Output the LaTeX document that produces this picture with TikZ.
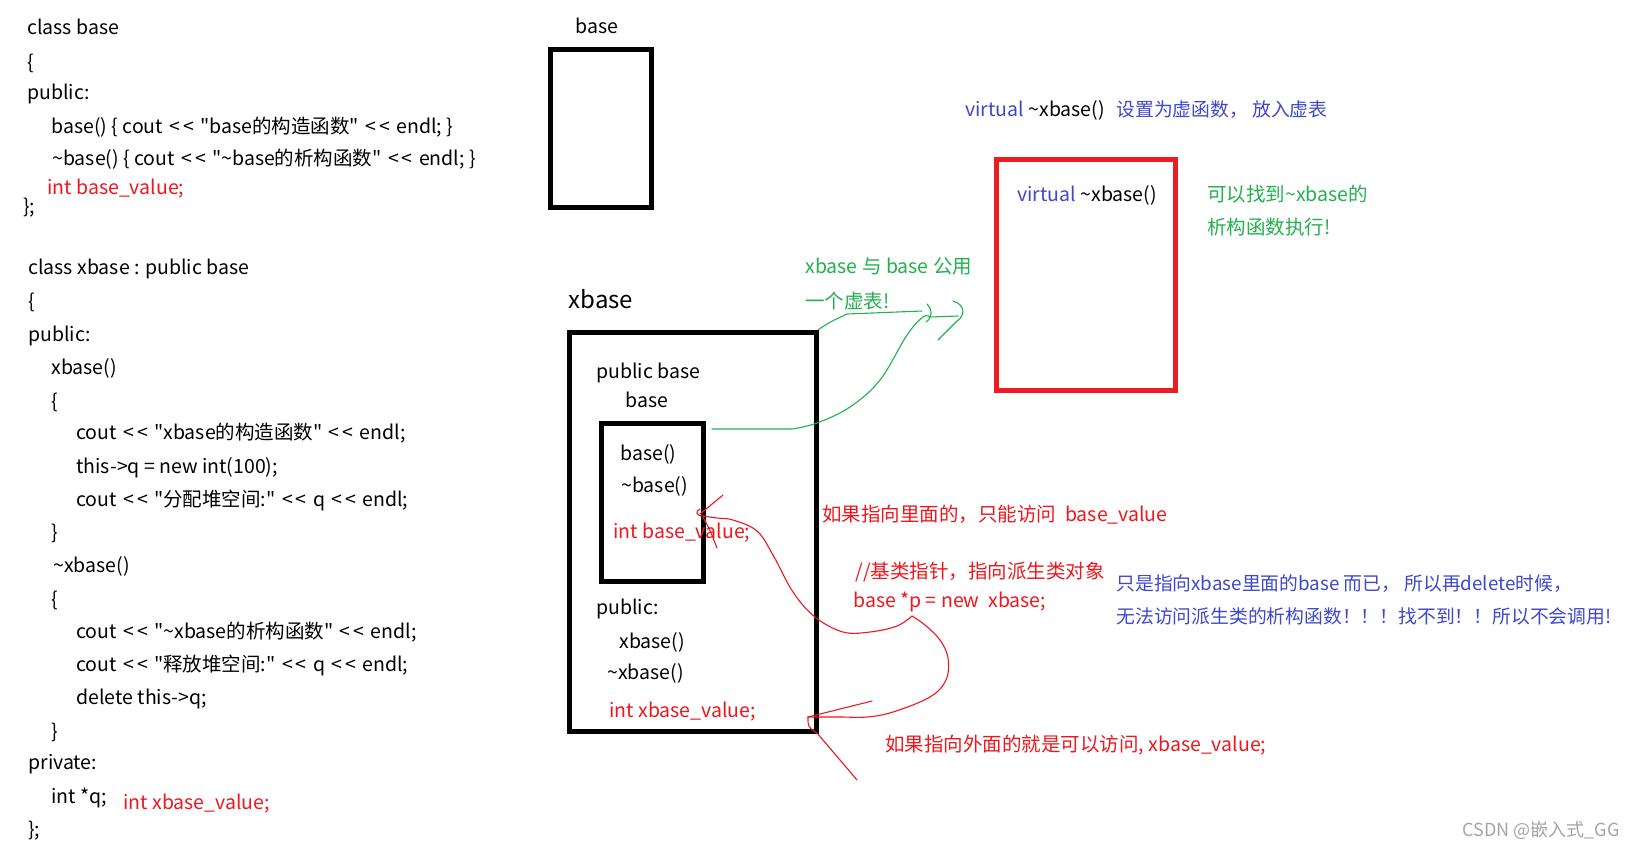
\documentclass[tikz,border=0pt]{standalone}
\usepackage{fontspec}
\newfontfamily\ydfont{Noto Sans CJK SC}
\newcommand{\ltlt}{\kern1pt<\kern1.5pt<\kern1pt}
\definecolor{txtred}{RGB}{240,22,30}
\definecolor{boxred}{RGB}{237,28,36}
\definecolor{pengreen}{RGB}{34,177,76}
\definecolor{txtblue}{RGB}{63,72,204}
\definecolor{wmgray}{RGB}{165,165,165}
\usetikzlibrary{arrows.meta,positioning}

\begin{document}
\begin{tikzpicture}[x=0.5pt, y=-0.5pt,
  txt/.style={anchor=west, inner sep=0pt, font=\ydfont\fontsize{9.75}{11}\selectfont, text height=7.3pt, text depth=0.5pt},
  ctxt/.style={txt, anchor=center},
  redtxt/.style={txt, text=txtred},
  greentxt/.style={txt, text=pengreen},
  bluetxt/.style={txt, text=txtblue, font=\ydfont\fontsize{9.4}{11}\selectfont},
  blackbox/.style={draw=black, line width=2.5pt, inner sep=0pt},
  redbox/.style={draw=boxred, line width=2.5pt, inner sep=0pt},
  greenpen/.style={draw=pengreen, line width=0.55pt, line cap=round, line join=round},
  redpen/.style={draw=txtred, line width=0.55pt, line cap=round, line join=round}]
  \useasboundingbox (0,0) rectangle (1634,848);
  \fill[white] (0,0) rectangle (1634,848);

  % class base
  \node[txt] (b1) at (27,28) {class base};
  \node[txt] (b2) at (27,63) {\{};
  \node[txt] (b3) at (27,93) {public:};
  \node[txt] (b4) at (51,127) {base() \{ cout \ltlt{} "base的构造函数" \ltlt{} endl; \}};
  \node[txt] (b5) at (52,159) {\textasciitilde base() \{ cout \ltlt{} "\textasciitilde base的析构函数" \ltlt{} endl; \}};
  \node[redtxt] (b6) at (47,188) {int base\_value;};
  \node[txt] (b7) at (23,207) {\};};

  % class xbase
  \node[txt] (x1) at (28,268) {class xbase : public base};
  \node[txt] (x2) at (28,302) {\{};
  \node[txt] (x3) at (28,335) {public:};
  \node[txt] (x4) at (51,368) {xbase()};
  \node[txt] (x5) at (51,402) {\{};
  \node[txt] (x6) at (76,433) {cout \ltlt{} "xbase的构造函数" \ltlt{} endl;};
  \node[txt] (x7) at (76,467) {this->q = new int(100);};
  \node[txt] (x8) at (76,500) {cout \ltlt{} "分配堆空间:" \ltlt{} q \ltlt{} endl;};
  \node[txt] (x9) at (51,533) {\}};
  \node[txt] (x10) at (53,566) {\textasciitilde xbase()};
  \node[txt] (x11) at (51,600) {\{};
  \node[txt] (x12) at (76,632) {cout \ltlt{} "\textasciitilde xbase的析构函数" \ltlt{} endl;};
  \node[txt] (x13) at (76,665) {cout \ltlt{} "释放堆空间:" \ltlt{} q \ltlt{} endl;};
  \node[txt] (x14) at (76,698) {delete this->q;};
  \node[txt] (x15) at (51,732) {\}};
  \node[txt] (x16) at (28,763) {private:};
  \node[txt] (x17) at (51,797) {int *q;};
  \node[redtxt] (x18) at (123,803) {int xbase\_value;};
  \node[txt] (x19) at (28,830) {\};};

  % base object
  \node[ctxt] (basetitle) at (597,27) {base};
  \node[blackbox, minimum width=50.5pt, minimum height=79pt] (basebox) at (601,128.5) {};

  % xbase object
  \node[ctxt, font=\ydfont\fontsize{12}{14}\selectfont] (xtitle) at (601,302) {xbase};
  \node[blackbox, minimum width=123.5pt, minimum height=199.5pt] (xbox) at (692.5,531.5) {};
  \node[txt] (pubbase) at (596,372) {public base};
  \node[ctxt] (subtitle) at (647,401) {base};
  \node[blackbox, minimum width=51pt, minimum height=79pt] (innerbox) at (652,502) {};
  \node[txt] (ib1) at (620,454) {base()};
  \node[txt] (ib2) at (621,486) {\textasciitilde base()};
  \node[redtxt] (ib3) at (613,532) {int base\_value;};
  \node[txt] (xp1) at (596,608) {public:};
  \node[txt] (xp2) at (619,642) {xbase()};
  \node[txt] (xp3) at (607,673) {\textasciitilde xbase()};
  \node[redtxt] (xp4) at (609,711) {int xbase\_value;};

  % virtual table
  \node[txt] (vtop) at (965,110) {\textcolor{txtblue}{virtual} \textasciitilde xbase()};
  \node[bluetxt] (vnote) at (1116,110) {设置为虚函数， 放入虚表};
  \node[redbox, minimum width=89.5pt, minimum height=115.5pt] (vtbl) at (1085.5,274.5) {};
  \node[txt] (ventry) at (1017,195) {\textcolor{txtblue}{virtual} \textasciitilde xbase()};
  \node[greentxt] (found1) at (1207,195) {可以找到\textasciitilde xbase的};
  \node[greentxt] (found2) at (1207,228) {析构函数执行!};
  \node[greentxt] (share1) at (805,267) {xbase 与 base 公用};
  \node[greentxt] (share2) at (805,302) {一个虚表!};

  % green strokes to the table
  \coordinate (gstart) at (712,429);
  \coordinate (vtip) at (930,317);
  \draw[greenpen] (xbox.north east) .. controls (830,322) .. (847,314) -- (922,311);
  \draw[greenpen] (927,304) .. controls (933,310) and (932,318) .. (926,322);
  \draw[greenpen] (gstart) -- (792,429) plot[smooth, tension=0.6] coordinates {(792,429) (817,423) (850,407) (880,380) (907,335) (923,317) (vtip)};
  \draw[greenpen] (vtip) -- (958,316);
  \draw[greenpen] (953,301) .. controls (966,305) and (965,316) .. (957,321) -- (938,340);

  % pointer notes
  \node[redtxt] (inner) at (822,515) {如果指向里面的，只能访问\ \ base\_value};
  \node[redtxt] (cmt) at (855,572) {//基类指针，指向派生类对象};
  \node[redtxt] (ptr) at (853,601) {base *p = new\ \ xbase;};
  \node[redtxt] (outer) at (885,745) {如果指向外面的就是可以访问, xbase\_value;};
  \node[bluetxt] (why1) at (1116,584) {只是指向xbase里面的base 而已， 所以再delete时候，};
  \node[bluetxt] (why2) at (1116,617) {无法访问派生类的析构函数！！！找不到！！所以不会调用!};

  % red strokes from p
  \coordinate (pptr) at (912,616);
  \coordinate (intip) at (700,514);
  \coordinate (outtip) at (808,717);
  \draw[redpen] plot[smooth, tension=0.6] coordinates {(pptr) (897,626) (870,632) (843,632) (815,617) (793,592) (773,555) (757,531) (733,520) (717,518) (703,516)};
  \draw[redpen] (700,509) .. controls (695,511) and (696,516) .. (703,516);
  \draw[redpen] (intip) -- (723,495);
  \draw[redpen] (703,517) .. controls (710,530) .. (717,548);
  \draw[redpen] plot[smooth, tension=0.6] coordinates {(pptr) (925,625) (940,640) (948,658) (946,680) (930,697) (893,712) (867,717) (840,717) (outtip)};
  \draw[redpen] (outtip) -- (872,701);
  \draw[redpen] (outtip) .. controls (808,727) .. (817,733) -- (857,780);

  \node[txt, text=wmgray, font=\ydfont\fontsize{9}{11}\selectfont] (mark) at (1462,830) {CSDN @嵌入式\_GG};
\end{tikzpicture}
\end{document}
